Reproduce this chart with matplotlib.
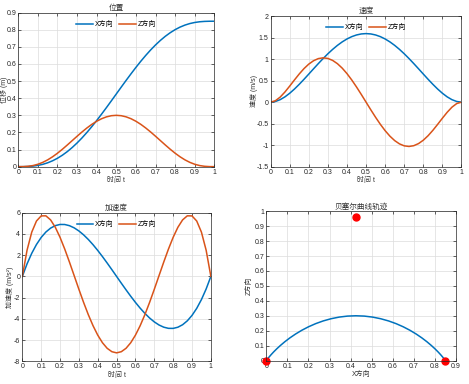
import matplotlib
matplotlib.use('Agg')
import matplotlib.pyplot as plt
from matplotlib.ticker import FormatStrFormatter, MultipleLocator

plt.rcParams['font.family'] = ['Liberation Sans', 'Noto Sans CJK SC']
plt.rcParams['axes.unicode_minus'] = False

# 时间采样
t = [0, 0.025, 0.05, 0.075, 0.1, 0.125, 0.15, 0.175, 0.2, 0.225, 0.25,
     0.275, 0.3, 0.325, 0.35, 0.375, 0.4, 0.425, 0.45, 0.475, 0.5,
     0.525, 0.55, 0.575, 0.6, 0.625, 0.65, 0.675, 0.7, 0.725, 0.75,
     0.775, 0.8, 0.825, 0.85, 0.875, 0.9, 0.925, 0.95, 0.975, 1]

# 位置
x_pos = [0, 0.0001, 0.0010, 0.0032, 0.0073, 0.0136, 0.0226, 0.0344, 0.0492, 0.0671, 0.0880,
         0.1119, 0.1386, 0.1680, 0.1999, 0.2339, 0.2698, 0.3073, 0.3458, 0.3852, 0.4250,
         0.4648, 0.5042, 0.5427, 0.5802, 0.6161, 0.6501, 0.6820, 0.7114, 0.7381, 0.7620,
         0.7829, 0.8008, 0.8156, 0.8274, 0.8364, 0.8427, 0.8468, 0.8490, 0.8499, 0.8500]
z_pos = [0, 0.0003, 0.0021, 0.0064, 0.0140, 0.0251, 0.0398, 0.0578, 0.0786, 0.1018, 0.1266,
         0.1522, 0.1778, 0.2027, 0.2261, 0.2472, 0.2654, 0.2802, 0.2911, 0.2978, 0.3000,
         0.2978, 0.2911, 0.2802, 0.2654, 0.2472, 0.2261, 0.2027, 0.1778, 0.1522, 0.1266,
         0.1018, 0.0786, 0.0578, 0.0398, 0.0251, 0.0140, 0.0064, 0.0021, 0.0003, 0]

# 速度
x_vel = [0, 0.0151, 0.0575, 0.1227, 0.2066, 0.3051, 0.4145, 0.5315, 0.6528, 0.7754, 0.8965,
         1.0136, 1.1246, 1.2271, 1.3198, 1.4007, 1.4688, 1.5229, 1.5620, 1.5858, 1.5938,
         1.5858, 1.5620, 1.5229, 1.4688, 1.4007, 1.3198, 1.2271, 1.1246, 1.0136, 0.8965,
         0.7754, 0.6528, 0.5315, 0.4145, 0.3051, 0.2066, 0.1227, 0.0575, 0.0151, 0]
z_vel = [0, 0.0325, 0.1170, 0.2356, 0.3732, 0.5168, 0.6554, 0.7804, 0.8847, 0.9633, 1.0125,
         1.0303, 1.0161, 0.9702, 0.8944, 0.7910, 0.6636, 0.5160, 0.3528, 0.1791, 0,
         -0.1791, -0.3528, -0.5160, -0.6636, -0.7910, -0.8944, -0.9702, -1.0161, -1.0303, -1.0125,
         -0.9633, -0.8847, -0.7804, -0.6554, -0.5168, -0.3732, -0.2356, -0.1170, -0.0325, 0]

# 加速度
x_acc = [0, 1.181, 2.180, 3.007, 3.672, 4.184, 4.552, 4.786, 4.896, 4.891, 4.781,
         4.576, 4.284, 3.916, 3.481, 2.989, 2.448, 1.869, 1.262, 0.636, 0,
         -0.636, -1.262, -1.869, -2.448, -2.989, -3.481, -3.916, -4.284, -4.576, -4.781,
         -4.891, -4.896, -4.786, -4.552, -4.184, -3.672, -3.007, -2.180, -1.181, 0]
z_acc = [0, 2.466, 4.172, 5.220, 5.702, 5.709, 5.324, 4.626, 3.686, 2.574, 1.350,
         0.072, -1.210, -2.448, -3.604, -4.641, -5.530, -6.246, -6.772, -7.092, -7.200,
         -7.092, -6.772, -6.246, -5.530, -4.641, -3.604, -2.448, -1.210, 0.072, 1.350,
         2.574, 3.686, 4.626, 5.324, 5.709, 5.702, 5.220, 4.172, 2.466, 0]

# 贝塞尔控制点
ctrl_x = [0, 0.425, 0.85]
ctrl_z = [0, 0.96, 0]

blue = '#0072BD'
orange = '#D95319'
fs = 5


def style(ax, xlim, ylim, xstep, ystep, title, xlabel, ylabel, ylab_x):
    ax.set_xlim(*xlim)
    ax.set_ylim(*ylim)
    ax.xaxis.set_major_locator(MultipleLocator(xstep))
    ax.yaxis.set_major_locator(MultipleLocator(ystep))
    ax.xaxis.set_major_formatter(FormatStrFormatter('%g'))
    ax.yaxis.set_major_formatter(FormatStrFormatter('%g'))
    ax.grid(True, color='#dcdcdc', linewidth=0.5)
    ax.set_axisbelow(True)
    ax.tick_params(direction='in', length=2, width=0.5, labelsize=fs,
                   colors='#262626', top=True, right=True, pad=1.5)
    for s in ax.spines.values():
        s.set_linewidth(0.5)
        s.set_color('#262626')
    ax.set_title(title, fontsize=fs + 0.5, color='#333333', pad=2)
    ax.set_xlabel(xlabel, fontsize=fs, color='#333333', labelpad=1)
    ax.set_ylabel(ylabel, fontsize=fs, color='#333333')
    ax.yaxis.set_label_coords(ylab_x, 0.5)


def add_legend(ax):
    ax.legend(loc='upper center', ncol=2, frameon=False, fontsize=fs,
              handlelength=2.4, handletextpad=0.3, columnspacing=0.8,
              borderaxespad=0.8)


fig = plt.figure(figsize=(4.69, 3.84), dpi=100)

ax1 = fig.add_axes([0.039, 0.566, 0.418, 0.401])
ax1.plot(t, x_pos, color=blue, lw=1.1, label='X方向')
ax1.plot(t, z_pos, color=orange, lw=1.1, label='Z方向')
style(ax1, (0, 1), (0, 0.9), 0.1, 0.1, '位置', '时间 t', '位移 (m)', -0.055)
add_legend(ax1)

ax2 = fig.add_axes([0.577, 0.566, 0.407, 0.392])
ax2.plot(t, x_vel, color=blue, lw=1.1, label='X方向')
ax2.plot(t, z_vel, color=orange, lw=1.1, label='Z方向')
style(ax2, (0, 1), (-1.5, 2), 0.1, 0.5, '速度', '时间 t', '速度 (m/s)', -0.066)
add_legend(ax2)

ax3 = fig.add_axes([0.0476, 0.059, 0.402, 0.387])
ax3.plot(t, x_acc, color=blue, lw=1.1, label='X方向')
ax3.plot(t, z_acc, color=orange, lw=1.1, label='Z方向')
style(ax3, (0, 1), (-8, 6), 0.1, 2, '加速度', '时间 t', '加速度 (m/s²)', -0.044)
add_legend(ax3)

ax4 = fig.add_axes([0.568, 0.061, 0.404, 0.389])
ax4.plot(x_pos, z_pos, color=blue, lw=1.1)
ax4.plot(ctrl_x, ctrl_z, 'o', color='red', markersize=5, clip_on=False)
style(ax4, (0, 0.9), (0, 1), 0.1, 0.1, '贝塞尔曲线轨迹', 'X方向', 'Z方向', -0.074)

fig.savefig('out.png', dpi=100)
